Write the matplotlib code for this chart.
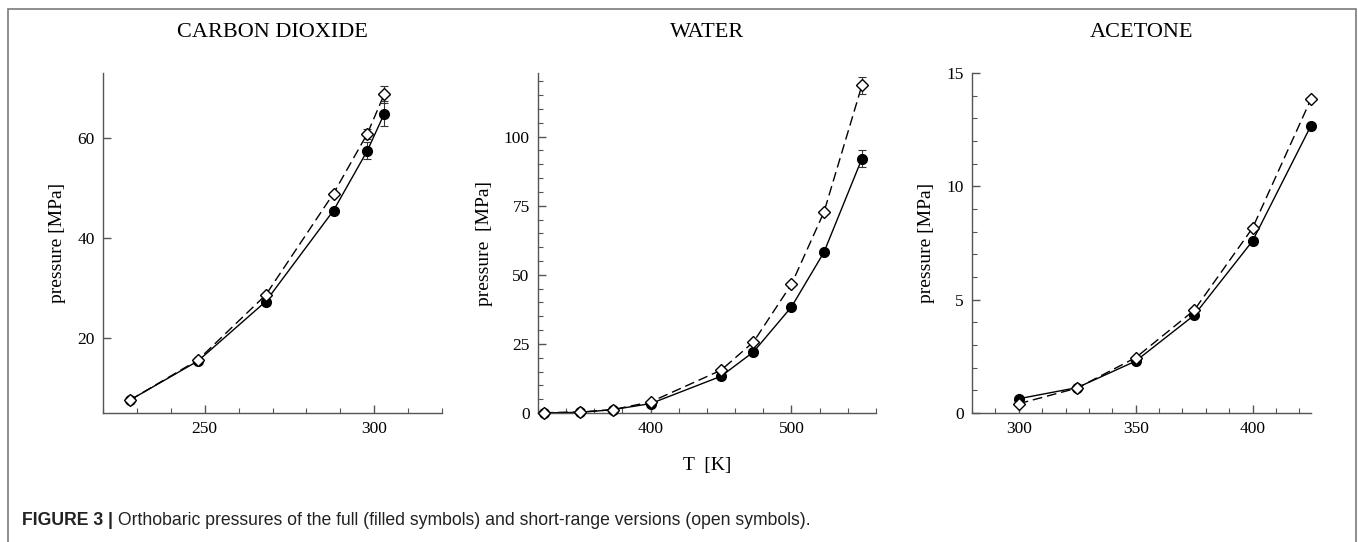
import matplotlib
matplotlib.use("Agg")
import matplotlib.pyplot as plt
from matplotlib.ticker import MultipleLocator
from matplotlib.patches import Rectangle

# ---------------- data ----------------
co2_T = [228, 248, 268, 288, 298, 303]
co2_full = [7.6, 15.4, 27.3, 45.5, 57.5, 64.9]
co2_short = [7.6, 15.6, 28.6, 48.9, 60.9, 68.8]
co2_full_err = [0, 0, 0, 0, 1.7, 2.5]
co2_short_err = [0, 0, 0, 0, 1.0, 1.7]

water_T = [324, 350, 373, 400, 450, 473, 500, 523, 550]
water_full = [0.05, 0.24, 1.2, 3.4, 13.3, 22.1, 38.4, 58.1, 92.0]
water_short = [0.1, 0.36, 1.2, 4.0, 15.5, 25.7, 46.6, 72.6, 118.5]
water_full_err = [0, 0, 0, 0, 0, 0, 0, 0, 3.1]
water_short_err = [0, 0, 0, 0, 0, 0, 0, 0, 3.0]

acet_T = [300, 325, 350, 375, 400, 425]
acet_full = [0.63, 1.12, 2.29, 4.31, 7.59, 12.68]
acet_short = [0.41, 1.10, 2.44, 4.53, 8.16, 13.85]

titles = ["CARBON DIOXIDE", "WATER", "ACETONE"]
ylabels = ["pressure [MPa]", "pressure  [MPa]", "pressure [MPa]"]
xlabel_mid = "T  [K]"
caption_bold = "FIGURE 3 |"
caption_text = " Orthobaric pressures of the full (filled symbols) and short-range versions (open symbols)."

# ---------------- figure ----------------
W, H = 1358, 542
fig = plt.figure(figsize=(W / 100, H / 100), dpi=100)
serif = "Liberation Serif"
sans = "Liberation Sans"
axcol = "#555555"

# outer frame
fig.patches.append(Rectangle((8 / W, -0.01), (1356 - 8) / W, 1 - 9 / H + 0.01,
                             transform=fig.transFigure, fill=False,
                             edgecolor="#7a7a7a", linewidth=1.2))

def box(l, r, t, b):
    return [l / W, 1 - b / H, (r - l) / W, (b - t) / H]

panels = [
    dict(rect=box(103, 442, 73, 413), T=co2_T, full=co2_full, short=co2_short,
         ferr=co2_full_err, serr=co2_short_err, xlim=(220, 320), ylim=(5, 73),
         xmaj=50, xmin=10, ymaj=20, ymin=None),
    dict(rect=box(538, 876, 73, 413), T=water_T, full=water_full, short=water_short,
         ferr=water_full_err, serr=water_short_err, xlim=(320, 560), ylim=(0, 123),
         xmaj=100, xmin=20, ymaj=25, ymin=5),
    dict(rect=box(972, 1311, 73, 413), T=acet_T, full=acet_full, short=acet_short,
         ferr=None, serr=None, xlim=(280, 425), ylim=(0, 15),
         xmaj=50, xmin=10, ymaj=5, ymin=1),
]

for i, p in enumerate(panels):
    ax = fig.add_axes(p["rect"])
    ax.plot(p["T"], p["full"], color="black", lw=1.0, ls="-", zorder=2, clip_on=False)
    ax.plot(p["T"], p["short"], color="black", lw=1.0, ls=(0, (7, 3.5)), zorder=2, clip_on=False)
    if p["ferr"] is not None:
        ax.errorbar(p["T"], p["full"], yerr=p["ferr"], fmt="none", ecolor="#333333",
                    elinewidth=0.8, capsize=3, capthick=0.8, zorder=3)
        ax.errorbar(p["T"], p["short"], yerr=p["serr"], fmt="none", ecolor="#333333",
                    elinewidth=0.8, capsize=3, capthick=0.8, zorder=3)
    ax.plot(p["T"], p["full"], ls="none", marker="o", ms=7, mfc="black", mec="black",
            zorder=4, clip_on=False)
    ax.plot(p["T"], p["short"], ls="none", marker="D", ms=6.5, mfc="white", mec="black",
            mew=1.0, zorder=5, clip_on=False)

    ax.set_xlim(*p["xlim"])
    ax.set_ylim(*p["ylim"])
    ax.xaxis.set_major_locator(MultipleLocator(p["xmaj"]))
    ax.xaxis.set_minor_locator(MultipleLocator(p["xmin"]))
    ax.yaxis.set_major_locator(MultipleLocator(p["ymaj"]))
    if p["ymin"]:
        ax.yaxis.set_minor_locator(MultipleLocator(p["ymin"]))
    for s in ["top", "right"]:
        ax.spines[s].set_visible(False)
    for s in ["left", "bottom"]:
        ax.spines[s].set_color(axcol)
        ax.spines[s].set_linewidth(1.0)
    ax.tick_params(which="major", direction="in", length=6, width=1.0, color=axcol,
                   labelsize=12.5, pad=6)
    ax.tick_params(which="minor", direction="in", length=3.5, width=0.8, color=axcol)
    for lab in ax.get_xticklabels() + ax.get_yticklabels():
        lab.set_fontfamily(serif)
    ax.set_ylabel(ylabels[i], fontsize=14, family=serif, labelpad=8)
    ax.set_title(titles[i], fontsize=16, family=serif, pad=26)
    if i == 1:
        ax.set_xlabel(xlabel_mid, fontsize=14, family=serif, labelpad=14)
    ax.patch.set_alpha(0)

fig.text(22 / W, 1 - 525 / H, caption_bold, fontsize=12.7, family=sans,
         fontweight="bold", color="#222222", va="baseline", ha="left")
t = fig.text(0, 0, "", fontsize=12.7, family=sans, color="#222222")
fig.canvas.draw()
r = fig.canvas.get_renderer()
tb = fig.texts[-2].get_window_extent(r)
t.set_position((tb.x1 / W, 1 - 525 / H))
t.set_text(caption_text)
t.set_va("baseline")

fig.savefig("out.png", dpi=100)
